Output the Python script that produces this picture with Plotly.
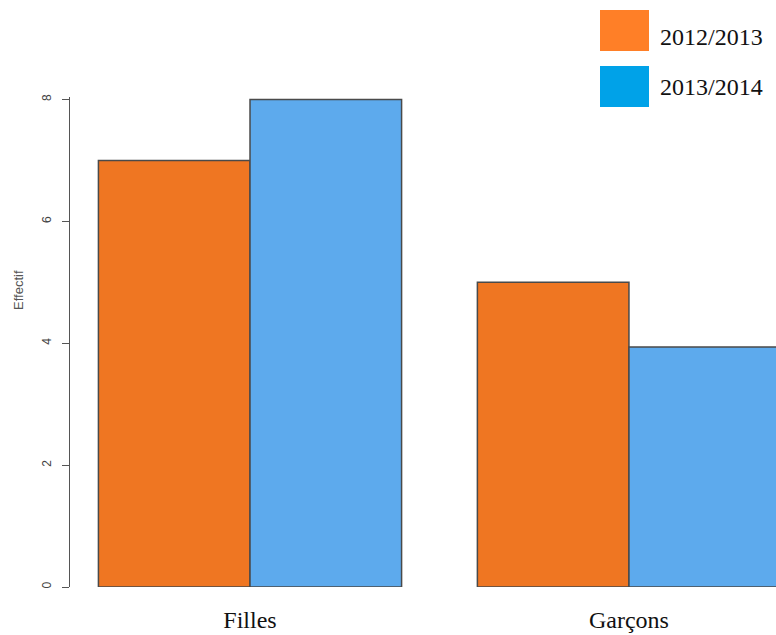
import plotly.graph_objects as go

categories = ["Filles", "Garçons"]
series_names = ["2012/2013", "2013/2014"]
values_2012 = [7, 5]
values_2013 = [8, 3.94]
y_ticks = [0, 2, 4, 6, 8]

bar_colors = ["#EF7622", "#5DAAED"]
legend_colors = ["#FF7F27", "#00A2E8"]

fig = go.Figure()
for name, vals, col in zip(series_names, [values_2012, values_2013], bar_colors):
    fig.add_trace(go.Bar(
        x=categories, y=vals, name=name,
        marker=dict(color=col, line=dict(color="#4a4a4a", width=1.5)),
        showlegend=False,
    ))

W, H = 776, 635
L, R, T, B = 70, 0, 97, 48
pw, ph = W - L - R, H - T - B

def px_to_paper(xp, yp):
    return (xp - L) / pw, (H - B - yp) / ph

# manual legend (squares + serif labels)
legend_box_tops = [10, 66]
legend_text_y = [37, 87]
for name, col, top, tyy in zip(series_names, legend_colors, legend_box_tops, legend_text_y):
    x0, y1 = px_to_paper(600, top)
    x1, y0 = px_to_paper(649, top + 41)
    fig.add_shape(type="rect", xref="paper", yref="paper", x0=x0, x1=x1, y0=y0, y1=y1,
                  fillcolor=col, line=dict(width=0), layer="above")
    tx, ty = px_to_paper(658, tyy)
    fig.add_annotation(xref="paper", yref="paper", x=tx, y=ty, text=name, showarrow=False,
                       xanchor="left", yanchor="middle",
                       font=dict(family="Liberation Serif", size=24, color="#111111"))

ax, ay = px_to_paper(18, 290)
fig.add_annotation(xref="paper", yref="paper", x=ax, y=ay, text="Effectif", showarrow=False,
                   textangle=-90, xanchor="center", yanchor="middle",
                   font=dict(family="Liberation Sans", size=13, color="#555555"))

fig.update_layout(
    width=W, height=H,
    margin=dict(l=L, r=R, t=T, b=B, pad=0),
    paper_bgcolor="white", plot_bgcolor="white",
    barmode="group", bargap=0.2, bargroupgap=0,
    xaxis=dict(range=[-0.475, 1.388], showline=False, showgrid=False, zeroline=False,
               ticks="", tickfont=dict(family="Liberation Serif", size=24, color="#111111"),
               ticklabelstandoff=16),
    yaxis=dict(range=[0, 8.04], tickvals=y_ticks, ticktext=[str(v) for v in y_ticks],
               showline=True, linecolor="#555555", linewidth=1.2,
               ticks="outside", ticklen=7, tickcolor="#555555", tickwidth=1.2,
               showgrid=False, zeroline=False, tickangle=-90, ticklabelstandoff=6,
               tickfont=dict(family="Liberation Sans", size=12, color="#444444")),
)

fig.write_html("out.html", config={"displayModeBar": False},
               post_script="document.body.style.margin='0';document.body.style.overflow='hidden';")
